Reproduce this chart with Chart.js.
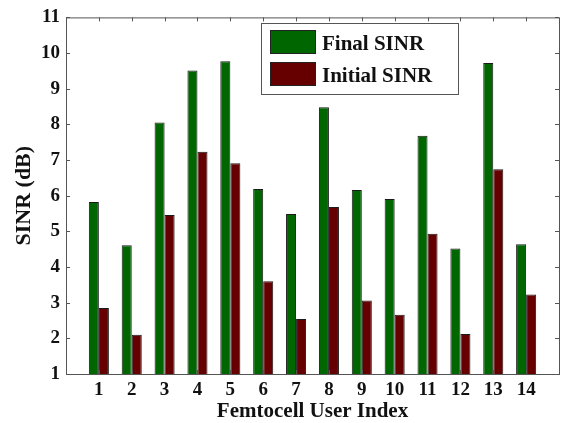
<!DOCTYPE html>
<html>
<head>
<meta charset="utf-8">
<script src="https://cdn.jsdelivr.net/npm/chart.js@4"></script>
<style>
  html, body { margin: 0; padding: 0; background: #fff; }
  #wrap { width: 564px; height: 423px; }
</style>
</head>
<body>
<div id="wrap"><canvas id="sinrChart" width="564" height="423"></canvas></div>
<script>
// femtocell users 1..14, padded with an empty slot on both sides
const users = ['', '1', '2', '3', '4', '5', '6', '7', '8', '9', '10', '11', '12', '13', '14', ''];
const finalSinr   = [null, 5.82, 4.61, 8.05, 9.51, 9.77, 6.19, 5.49, 8.48, 6.16, 5.91, 7.68, 4.52, 9.72, 4.64, null];
const initialSinr = [null, 2.85, 2.10, 5.46, 7.23, 6.91, 3.60, 2.54, 5.68, 3.06, 2.66, 4.93, 2.12, 6.74, 3.23, null];
const yTicks = [1, 2, 3, 4, 5, 6, 7, 8, 9, 10, 11];

const serif = '"Liberation Serif", "Times New Roman", serif';

// box around the plot with inward tick marks on every side
const boxPlugin = {
    id: 'box',
    afterDraw(chart) {
        const ctx = chart.ctx;
        const a = chart.chartArea;
        const xs = chart.scales.x, ys = chart.scales.y;
        const len = 4;
        ctx.save();
        ctx.strokeStyle = '#555';
        ctx.lineWidth = 1;
        ctx.strokeRect(a.left + 0.5, a.top + 0.5, a.right - a.left, a.bottom - a.top);
        ctx.beginPath();
        xs.ticks.forEach((t, i) => {
            if (!users[i]) return;
            const px = Math.round(xs.getPixelForTick(i)) + 0.5;
            ctx.moveTo(px, a.top); ctx.lineTo(px, a.top + len);
            ctx.moveTo(px, a.bottom); ctx.lineTo(px, a.bottom - len);
        });
        yTicks.forEach(v => {
            const py = Math.round(ys.getPixelForValue(v)) + 0.5;
            ctx.moveTo(a.left, py); ctx.lineTo(a.left + len, py);
            ctx.moveTo(a.right, py); ctx.lineTo(a.right - len, py);
        });
        ctx.stroke();
        ctx.restore();
    }
};

// legend box in the upper part of the plot
const legendPlugin = {
    id: 'legendBox',
    afterDraw(chart) {
        const ctx = chart.ctx;
        const x0 = 261, y0 = 23, w = 197, h = 71;
        ctx.save();
        ctx.fillStyle = '#fff';
        ctx.fillRect(x0, y0, w, h);
        ctx.strokeStyle = '#555';
        ctx.lineWidth = 1;
        ctx.strokeRect(x0 + 0.5, y0 + 0.5, w, h);
        ctx.font = 'bold 21px ' + serif;
        ctx.textBaseline = 'alphabetic';
        chart.data.datasets.forEach((ds, i) => {
            const sy = y0 + 7 + i * 32;
            ctx.fillStyle = ds.backgroundColor;
            ctx.fillRect(x0 + 9, sy, 46, 24);
            ctx.strokeStyle = '#222';
            ctx.strokeRect(x0 + 9.5, sy + 0.5, 45, 23);
            ctx.fillStyle = '#111';
            ctx.fillText(ds.label, x0 + 61, sy + 20);
        });
        ctx.restore();
    }
};

new Chart(document.getElementById('sinrChart'), {
    type: 'bar',
    data: {
        labels: users,
        datasets: [
            { label: 'Final SINR', data: finalSinr, backgroundColor: '#006600', borderColor: '#1a1a1a', borderWidth: 1 },
            { label: 'Initial SINR', data: initialSinr, backgroundColor: '#660000', borderColor: '#1a1a1a', borderWidth: 1 }
        ]
    },
    options: {
        responsive: false,
        animation: false,
        devicePixelRatio: 1,
        layout: { padding: { top: 12, right: 5, left: 0, bottom: 0 } },
        datasets: { bar: { barPercentage: 1, categoryPercentage: 0.61 } },
        plugins: { legend: { display: false }, tooltip: { enabled: false } },
        scales: {
            x: {
                offset: false,
                grid: { display: false, drawTicks: false },
                border: { display: false },
                ticks: { color: '#111', font: { family: serif, size: 19, weight: 'bold' }, padding: 5, maxRotation: 0, autoSkip: false },
                title: { display: true, text: 'Femtocell User Index', color: '#111', font: { family: serif, size: 21, weight: 'bold' }, padding: { top: 0, bottom: -1 } },
                afterFit(s) { s.height = 49; }
            },
            y: {
                min: 1, max: 11,
                grid: { display: false, drawTicks: false },
                border: { display: false },
                ticks: { stepSize: 1, color: '#111', font: { family: serif, size: 19, weight: 'bold' }, padding: 6 },
                title: { display: true, text: 'SINR (dB)', color: '#111', font: { family: serif, size: 22, weight: 'bold' }, padding: { top: 11, bottom: 0 } },
                afterFit(s) { s.width = 66; }
            }
        }
    },
    plugins: [boxPlugin, legendPlugin]
});
</script>
</body>
</html>
